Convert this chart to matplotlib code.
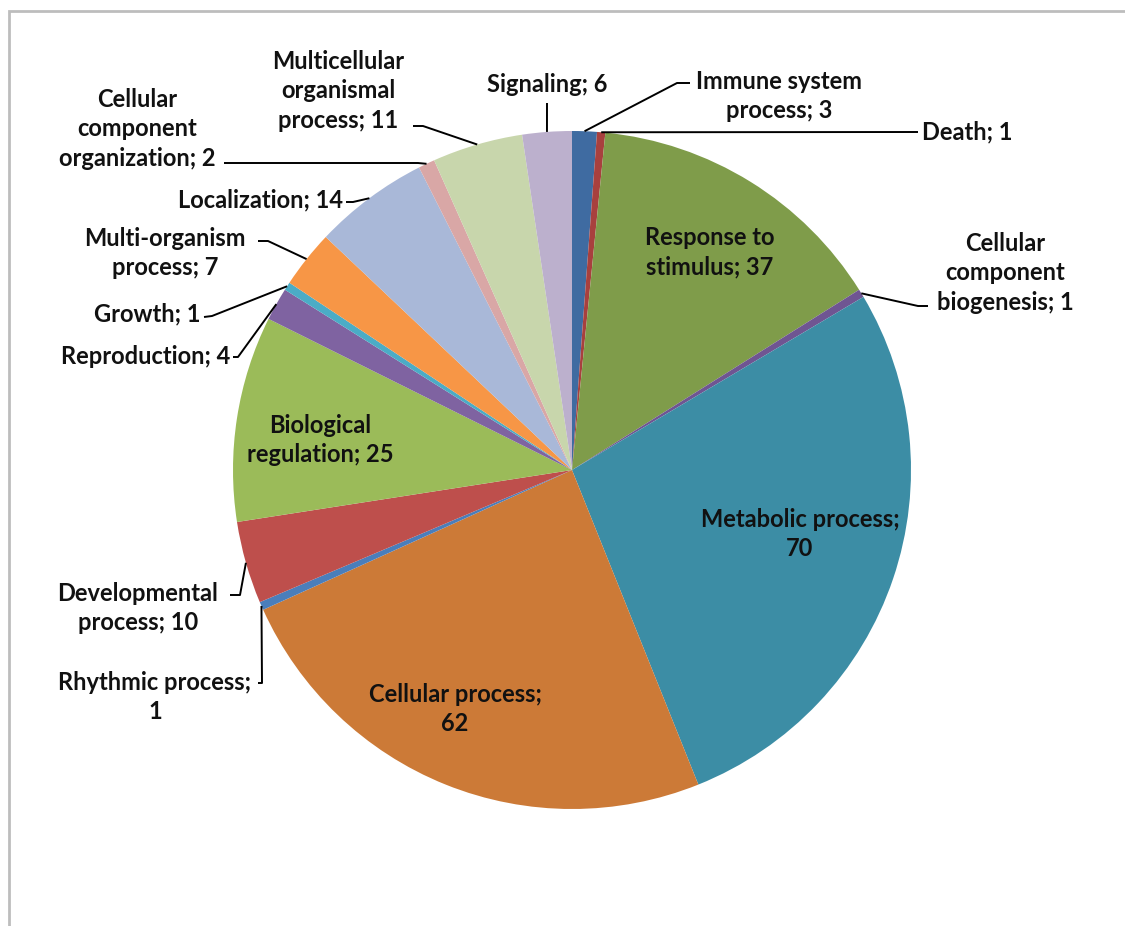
import matplotlib
matplotlib.use("Agg")
import matplotlib.pyplot as plt
import numpy as np

# GO biological process categories, clockwise from 12 o'clock
categories = [
    "Immune system\nprocess", "Death", "Response to\nstimulus",
    "Cellular\ncomponent\nbiogenesis", "Metabolic process", "Cellular process",
    "Rhythmic process", "Developmental\nprocess", "Biological\nregulation",
    "Reproduction", "Growth", "Multi-organism\nprocess", "Localization",
    "Cellular\ncomponent\norganization", "Multicellular\norganismal\nprocess",
    "Signaling",
]
counts = [3, 1, 37, 1, 70, 62, 1, 10, 25, 4, 1, 7, 14, 2, 11, 6]
# separator between name and count (some labels wrap the count)
seps = ["; ", "; ", "; ", "; ", ";\n", ";\n", ";\n", "; ", "; ",
        "; ", "; ", "; ", "; ", "; ", "; ", "; "]
colors = [
    "#3F6BA1", "#A8403E", "#7F9C4A", "#6F5592", "#3C8DA5", "#CC7A37",
    "#4A7EBB", "#BE4F4C", "#9BBB59", "#7F63A1", "#4BACC6", "#F79646",
    "#A9B8D8", "#D9A7A6", "#C8D6AC", "#BCB0CD",
]

W, H = 1125, 926
CX, CY, R = 572, 470, 339


def px(x, y):
    # pixel coords measured from the top-left -> data coords
    return x, H - y


# label layout: (text x, text y, ha, leader points from text towards wedge)
layout = [
    (779, 96, "center", [(690, 83), (677, 83)]),
    (922, 132, "left", [(918, 132)]),
    (710, 252, "center", None),
    (1005, 273, "center", [(928, 306), (918, 306)]),
    (800, 534, "center", None),
    (455, 709, "center", None),
    (155, 697, "center", [(258, 683), (262, 683)]),
    (138, 608, "center", [(230, 595), (240, 595)]),
    (320, 440, "center", None),
    (230, 357, "right", [(233, 357), (238, 357)]),
    (201, 314, "right", [(204, 317), (212, 316)]),
    (165, 253, "center", [(258, 241), (268, 241)]),
    (343, 200, "right", [(346, 202), (353, 202)]),
    (137, 129, "center", [(224, 163), (418, 163)]),
    (338, 91, "center", [(413, 126), (423, 126)]),
    (547, 85, "center", [(547, 103)]),
]

fig = plt.figure(figsize=(W / 100, H / 100), dpi=100)
ax = fig.add_axes([0, 0, 1, 1])

wedges, _ = ax.pie(counts, colors=colors, startangle=90, counterclock=False,
                   center=px(CX, CY), radius=R, frame=True,
                   wedgeprops=dict(linewidth=0))
ax.set_xlim(0, W)
ax.set_ylim(0, H)
ax.set_aspect("equal")
ax.axis("off")

# chart area border (only top and left edges are inside the image)
ax.plot([9, 9, W + 5], [-5, H - 11, H - 11], color="#BDBDBD", lw=2,
        solid_joinstyle="miter", clip_on=False)

font = dict(family=["Lato", "DejaVu Sans"], fontweight="bold", fontsize=17,
            color="#111111")

for w, cat, val, sep, (tx, ty, ha, lead) in zip(wedges, categories, counts,
                                                  seps, layout):
    ax.text(*px(tx, ty), f"{cat}{sep}{val}", ha=ha, va="center",
            multialignment="center", linespacing=1.36, **font)
    if lead:
        ang = np.deg2rad((w.theta1 + w.theta2) / 2)
        ex = CX + R * np.cos(ang)
        ey = CY - R * np.sin(ang)
        pts = [px(x, y) for x, y in lead] + [px(ex, ey)]
        xs, ys = zip(*pts)
        ax.plot(xs, ys, color="black", lw=1.4, solid_capstyle="butt")

fig.savefig("out.png", dpi=100, facecolor="white")
